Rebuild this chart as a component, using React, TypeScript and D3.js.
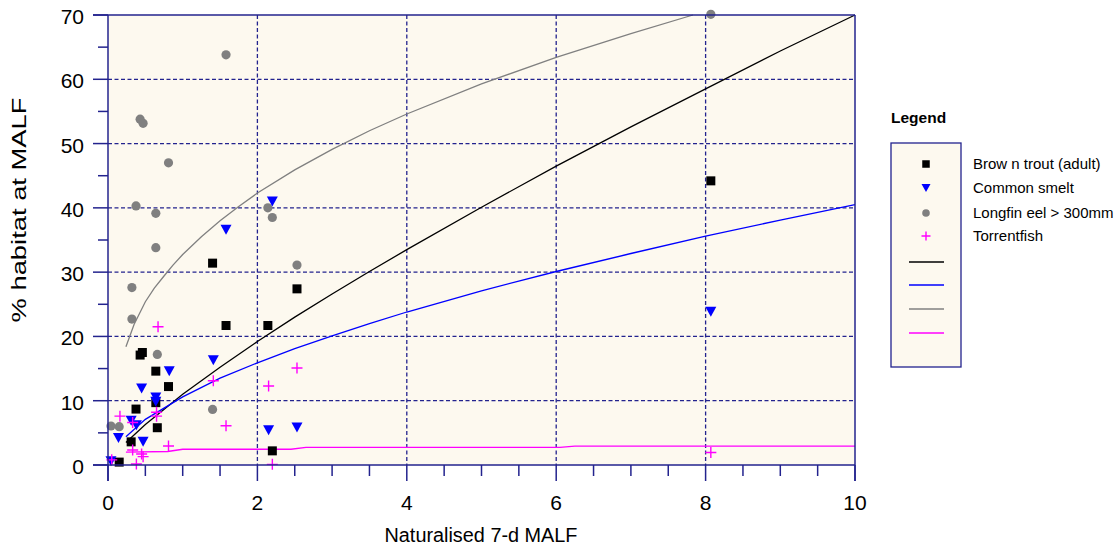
import React from "react";
import * as d3 from "d3";

const xTicksMajor = [0, 2, 4, 6, 8, 10];
const yTicksMajor = [0, 10, 20, 30, 40, 50, 60, 70];

const troutX = [0.15, 0.31, 0.375, 0.66, 0.81, 0.64, 0.43, 0.46, 0.64, 1.40, 1.58, 2.14, 2.53, 2.20, 8.07];
const troutY = [0.45, 3.6, 8.7, 5.8, 12.2, 9.7, 17.1, 17.5, 14.6, 31.4, 21.7, 21.7, 27.4, 2.2, 44.2];

const smeltX = [0.04, 0.14, 0.45, 0.31, 0.38, 0.47, 0.64, 0.64, 0.82, 1.41, 1.58, 2.20, 2.15, 2.53, 8.07];
const smeltY = [0.6, 4.2, 11.9, 6.9, 6.2, 3.6, 10.5, 9.85, 14.6, 16.3, 36.6, 41.0, 5.4, 5.85, 23.85];

const eelX = [0.04, 0.15, 0.32, 0.66, 0.32, 0.64, 0.375, 0.64, 0.81, 0.43, 0.47, 1.58, 2.14, 2.20, 2.53, 1.40, 8.07];
const eelY = [6.07, 5.96, 22.7, 17.2, 27.6, 33.8, 40.3, 39.15, 47.0, 53.8, 53.15, 63.8, 40.0, 38.5, 31.1, 8.65, 70.1];

const torrentX = [0.05, 0.16, 0.33, 0.33, 0.38, 0.45, 0.47, 0.65, 0.65, 0.81, 0.67, 1.41, 1.58, 2.15, 2.53, 2.20, 8.07];
const torrentY = [0.8, 7.6, 6.6, 2.33, 0.15, 1.7, 1.3, 8.2, 7.6, 2.95, 21.5, 13.1, 6.1, 12.3, 15.1, 0.1, 1.95];

const troutCurveX = [0.24, 0.5, 1, 1.5, 2, 2.5, 3, 3.5, 4, 5, 6, 7, 8, 9, 10];
const troutCurveY = [3.5, 6.3, 11.0, 15.2, 19.2, 23.0, 26.6, 30.1, 33.5, 40.1, 46.5, 52.6, 58.5, 64.4, 70.0];

const smeltCurveX = [0.24, 0.5, 1, 1.5, 2, 2.5, 3, 3.5, 4, 5, 6, 7, 8, 9, 10];
const smeltCurveY = [4.4, 7.1, 10.6, 13.5, 15.9, 18.1, 20.1, 22.0, 23.8, 27.1, 30.1, 32.9, 35.6, 38.1, 40.5];

const eelCurveX = [0.24, 0.35, 0.5, 0.62, 0.75, 0.87, 1, 1.25, 1.5, 1.75, 2, 2.5, 3, 3.5, 4, 5, 6, 7, 7.83];
const eelCurveY = [18.4, 21.9, 25.4, 27.5, 29.4, 31.1, 32.75, 35.5, 38.0, 40.2, 42.3, 45.9, 49.1, 52.0, 54.6, 59.3, 63.4, 67.1, 70.0];

const torrentCurveX = [0.24, 0.8, 1.0, 2.45, 2.65, 6.05, 6.25, 10];
const torrentCurveY = [2.0, 2.1, 2.45, 2.45, 2.75, 2.75, 2.95, 2.95];

const legendLabels = ["Brow n trout (adult)", "Common smelt", "Longfin eel > 300mm", "Torrentfish"];

const NAVY = "#23238e";
const BG = "#fdf9ef";
const FONT = "Arial, 'Liberation Sans', sans-serif";

function Square({ cx, cy, s = 9, fill = "#000" }) {
  return <rect x={cx - s / 2} y={cy - s / 2} width={s} height={s} fill={fill} />;
}
function Tri({ cx, cy, w = 11, h = 10, fill = "#0000ff" }) {
  return <path d={`M${cx - w / 2},${cy - h / 2}L${cx + w / 2},${cy - h / 2}L${cx},${cy + h / 2}Z`} fill={fill} />;
}
function Dot({ cx, cy, r = 4.6, fill = "#808080" }) {
  return <circle cx={cx} cy={cy} r={r} fill={fill} />;
}
function Plus({ cx, cy, s = 5.5, stroke = "#ff00ff" }) {
  return (
    <path d={`M${cx - s},${cy}H${cx + s}M${cx},${cy - s}V${cy + s}`} stroke={stroke} strokeWidth={1.4} fill="none" />
  );
}

export default function App() {
  const x = d3.scaleLinear().domain([0, 10]).range([108, 855]);
  const y = d3.scaleLinear().domain([0, 70]).range([465, 15]);
  const line = (xs: number[], ys: number[]) =>
    d3.line<number>().x((_, i) => x(xs[i])).y((_, i) => y(ys[i]))(xs) as string;

  const xMinor = d3.range(0, 10.001, 0.5);
  const yMinor = d3.range(5, 70, 10);

  const lx = 926;
  const legendRows = [164, 188, 213, 236];
  const legendLines = [262, 285, 309, 333];

  return (
    <svg
      width={1120}
      height={547}
      style={{ position: "absolute", left: 0, top: 0, background: "#fff" }}
      fontFamily={FONT}
    >
      <rect x={x(0)} y={y(70)} width={x(10) - x(0)} height={y(0) - y(70)} fill={BG} />
      {yTicksMajor.slice(1, -1).map((v) => (
        <line key={"gy" + v} x1={x(0)} x2={x(10)} y1={y(v)} y2={y(v)} stroke={NAVY} strokeWidth={1.3} strokeDasharray="4,2.5" />
      ))}
      {xTicksMajor.slice(1, -1).map((v) => (
        <line key={"gx" + v} x1={x(v)} x2={x(v)} y1={y(70)} y2={y(0)} stroke={NAVY} strokeWidth={1.3} strokeDasharray="4,2.5" />
      ))}
      <path d={line(eelCurveX, eelCurveY)} stroke="#808080" strokeWidth={1.3} fill="none" />
      <path d={line(troutCurveX, troutCurveY)} stroke="#000" strokeWidth={1.3} fill="none" />
      <path d={line(smeltCurveX, smeltCurveY)} stroke="#0000ff" strokeWidth={1.3} fill="none" />
      <path d={line(torrentCurveX, torrentCurveY)} stroke="#ff00ff" strokeWidth={1.3} fill="none" />
      {eelX.map((v, i) => <Dot key={"e" + i} cx={x(v)} cy={y(eelY[i])} />)}
      {troutX.map((v, i) => <Square key={"t" + i} cx={x(v)} cy={y(troutY[i])} />)}
      {smeltX.map((v, i) => <Tri key={"s" + i} cx={x(v)} cy={y(smeltY[i])} />)}
      {torrentX.map((v, i) => <Plus key={"p" + i} cx={x(v)} cy={y(torrentY[i])} />)}
      <line x1={x(0)} x2={x(0)} y1={y(70)} y2={481} stroke={NAVY} strokeWidth={1.5} />
      <line x1={x(10)} x2={x(10)} y1={y(70)} y2={481} stroke={NAVY} strokeWidth={1.5} />
      <line x1={93} x2={x(10)} y1={y(70)} y2={y(70)} stroke={NAVY} strokeWidth={1.5} />
      <line x1={93} x2={x(10)} y1={y(0)} y2={y(0)} stroke={NAVY} strokeWidth={1.5} />
      {yTicksMajor.map((v) => (
        <line key={"yt" + v} x1={93} x2={x(0)} y1={y(v)} y2={y(v)} stroke={NAVY} strokeWidth={1.5} />
      ))}
      {yMinor.map((v) => (
        <line key={"ym" + v} x1={98} x2={x(0)} y1={y(v)} y2={y(v)} stroke={NAVY} strokeWidth={1.5} />
      ))}
      {xMinor.map((v) => (
        <line
          key={"xm" + v}
          x1={x(v)}
          x2={x(v)}
          y1={y(0)}
          y2={xTicksMajor.includes(v) ? 481 : 476}
          stroke={NAVY}
          strokeWidth={1.5}
        />
      ))}
      {yTicksMajor.map((v) => (
        <text key={"yl" + v} x={84} y={y(v) + 1.5} dy="0.36em" textAnchor="end" fontSize={21} fill="#000">
          {v}
        </text>
      ))}
      {xTicksMajor.map((v) => (
        <text key={"xl" + v} x={x(v)} y={502} dy="0.36em" textAnchor="middle" fontSize={21} fill="#000">
          {v}
        </text>
      ))}
      <text x={481} y={535} dy="0.36em" textAnchor="middle" fontSize={20} fill="#000" textLength={193} lengthAdjust="spacingAndGlyphs">
        Naturalised 7-d MALF
      </text>
      <text
        transform={`translate(18,210) rotate(-90)`}
        dy="0.36em"
        textAnchor="middle"
        fontSize={21}
        fill="#000"
        textLength={225}
        lengthAdjust="spacingAndGlyphs"
      >
        % habitat at MALF
      </text>
      <text x={891} y={117} dy="0.36em" fontSize={15.5} fontWeight="bold" fill="#000">
        Legend
      </text>
      <rect x={891} y={143} width={70} height={224} fill={BG} stroke={NAVY} strokeWidth={1.3} />
      <Square cx={lx} cy={legendRows[0]} s={7.5} />
      <Tri cx={lx} cy={legendRows[1]} w={9} h={8} />
      <Dot cx={lx} cy={legendRows[2]} r={3.8} />
      <Plus cx={lx} cy={legendRows[3]} s={4.5} />
      {["#000", "#0000ff", "#808080", "#ff00ff"].map((c, i) => (
        <line key={"ll" + i} x1={909} x2={944} y1={legendLines[i]} y2={legendLines[i]} stroke={c} strokeWidth={1.3} />
      ))}
      {legendLabels.map((t, i) => (
        <text key={"lt" + i} x={973} y={legendRows[i]} dy="0.36em" fontSize={15} fill="#000">
          {t}
        </text>
      ))}
    </svg>
  );
}
